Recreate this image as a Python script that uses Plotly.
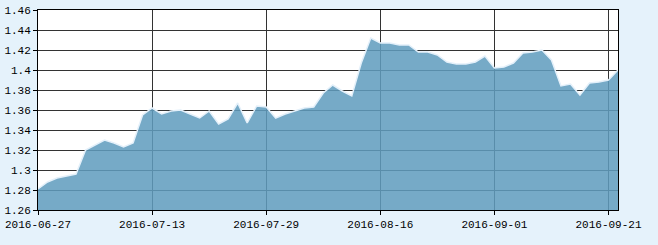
import plotly.graph_objects as go

dates = [
    "2016-06-27", "2016-06-28", "2016-06-29", "2016-06-30", "2016-07-01",
    "2016-07-04", "2016-07-05", "2016-07-06", "2016-07-07", "2016-07-08",
    "2016-07-11", "2016-07-12", "2016-07-13", "2016-07-14", "2016-07-15",
    "2016-07-18", "2016-07-19", "2016-07-20", "2016-07-21", "2016-07-22",
    "2016-07-25", "2016-07-26", "2016-07-27", "2016-07-28", "2016-07-29",
    "2016-08-01", "2016-08-02", "2016-08-03", "2016-08-04", "2016-08-05",
    "2016-08-08", "2016-08-09", "2016-08-10", "2016-08-11", "2016-08-12",
    "2016-08-15", "2016-08-16", "2016-08-17", "2016-08-18", "2016-08-19",
    "2016-08-22", "2016-08-23", "2016-08-24", "2016-08-25", "2016-08-26",
    "2016-08-29", "2016-08-30", "2016-08-31", "2016-09-01", "2016-09-02",
    "2016-09-05", "2016-09-06", "2016-09-07", "2016-09-08", "2016-09-09",
    "2016-09-12", "2016-09-13", "2016-09-14", "2016-09-19", "2016-09-20",
    "2016-09-21", "2016-09-22",
]

values = [
    1.281, 1.288, 1.292, 1.294, 1.296, 1.320, 1.325, 1.330, 1.327, 1.323,
    1.327, 1.355, 1.362, 1.356, 1.359, 1.360, 1.356, 1.352, 1.359, 1.346,
    1.351, 1.367, 1.347, 1.364, 1.363, 1.352, 1.356, 1.359, 1.362, 1.363,
    1.377, 1.385, 1.379, 1.374, 1.407, 1.432, 1.427, 1.427, 1.425, 1.425,
    1.418, 1.418, 1.415, 1.408, 1.406, 1.406, 1.408, 1.414, 1.402, 1.403,
    1.407, 1.417, 1.418, 1.420, 1.410, 1.384, 1.386, 1.375, 1.387, 1.388,
    1.390, 1.400,
]

x_ticks = ["2016-06-27", "2016-07-13", "2016-07-29", "2016-08-16", "2016-09-01", "2016-09-21"]
y_ticks = [1.26, 1.28, 1.3, 1.32, 1.34, 1.36, 1.38, 1.4, 1.42, 1.44, 1.46]
y_labels = ["1.26", "1.28", "1.3", "1.32", "1.34", "1.36", "1.38", "1.4", "1.42", "1.44", "1.46"]

fig = go.Figure()
fig.add_trace(go.Scatter(
    x=dates, y=values, mode="lines", fill="tozeroy",
    line=dict(color="#E4F0FA", width=1.5),
    fillcolor="rgba(96,156,190,0.86)",
    hoverinfo="x+y", showlegend=False,
))

font = dict(family="Liberation Mono, DejaVu Sans Mono, monospace", size=11, color="#000")

fig.update_layout(
    width=658, height=245,
    margin=dict(l=38, r=40, t=10, b=35, autoexpand=False),
    paper_bgcolor="#E5F2FB",
    plot_bgcolor="#FFFFFF",
    font=font,
    xaxis=dict(
        type="category", range=[0, len(dates) - 1], automargin=False,
        tickmode="array", tickvals=x_ticks, ticktext=x_ticks,
        showgrid=True, gridcolor="#333333", gridwidth=1,
        ticks="outside", ticklen=4, tickcolor="#000",
        showline=True, linecolor="#000", linewidth=1, mirror=True,
        zeroline=False, tickfont=font,
    ),
    yaxis=dict(
        range=[1.26, 1.46], automargin=False,
        tickmode="array", tickvals=y_ticks, ticktext=y_labels,
        showgrid=True, gridcolor="#333333", gridwidth=1,
        ticks="outside", ticklen=4, tickcolor="#000",
        showline=True, linecolor="#000", linewidth=1, mirror=True,
        zeroline=False, tickfont=font,
    ),
)

fig.write_html("out.html")
